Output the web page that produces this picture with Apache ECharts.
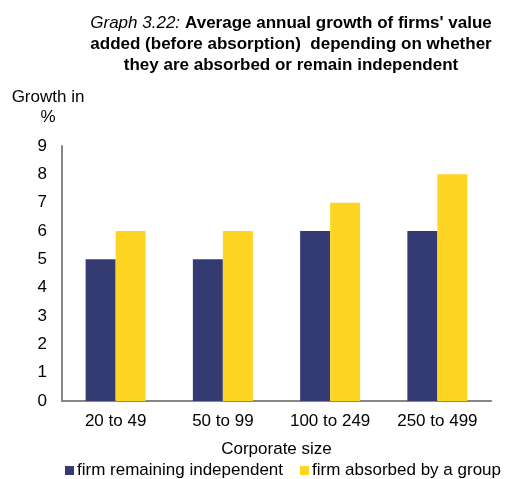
<!DOCTYPE html>
<html>
<head>
<meta charset="utf-8">
<script src="https://cdn.jsdelivr.net/npm/echarts@6/dist/echarts.min.js"></script>
<style>
  html, body { margin: 0; padding: 0; background: #fff; }
  #chart { width: 513px; height: 479px; }
</style>
</head>
<body>
<div id="chart"></div>
<script>
// data
const categories = ['20 to 49', '50 to 99', '100 to 249', '250 to 499']
const independent = [5, 5, 6, 6]
const absorbed = [6, 6, 7, 8]
const seriesNames = ['firm remaining independent', 'firm absorbed by a group']

const C = {
  navy: '#343b73',
  yellow: '#ffd524',
  axis: '#868686',
  text: '#000000'
}
const FONT = '"Liberation Sans", Arial, sans-serif'

const chart = echarts.init(document.getElementById('chart'))

chart.setOption({
  backgroundColor: '#ffffff',
  animation: false,
  textStyle: { fontFamily: FONT },
  title: [
    {
      // italic label + bold heading, three centred lines
      text: '{i|Graph 3.22:} {b|Average annual growth of firms\' value}\n{b|added (before absorption)  depending on whether}\n{b|they are absorbed or remain independent}',
      left: 286,
      top: 8,
      textAlign: 'center',
      textStyle: {
        fontWeight: 'normal',
        rich: {
          i: { fontStyle: 'italic', fontWeight: 'normal', fontSize: 17, fontFamily: FONT, color: C.text, lineHeight: 21 },
          b: { fontWeight: 'bold', fontSize: 17, fontFamily: FONT, color: C.text, lineHeight: 21 }
        }
      }
    },
    {
      text: 'Growth in\n%',
      left: 43,
      top: 82,
      textAlign: 'center',
      textStyle: { fontSize: 17, fontWeight: 'normal', fontFamily: FONT, color: C.text, lineHeight: 20 }
    }
  ],
  grid: { left: 62, right: 22, top: 146, bottom: 78, containLabel: false },
  legend: {
    left: 60,
    top: 457,
    itemWidth: 9,
    itemHeight: 9,
    itemGap: 17,
    icon: 'rect',
    textStyle: { fontSize: 17, color: C.text, fontFamily: FONT, padding: [0, 0, 0, -2] },
    data: seriesNames
  },
  xAxis: {
    type: 'category',
    data: categories,
    name: 'Corporate size',
    nameLocation: 'middle',
    nameGap: 40,
    nameTextStyle: { fontSize: 17, color: C.text, fontFamily: FONT },
    axisTick: { show: false },
    axisLine: { lineStyle: { color: C.axis, width: 2 } },
    axisLabel: { fontSize: 17, color: C.text, margin: 12, fontFamily: FONT }
  },
  yAxis: {
    type: 'value',
    min: 0,
    max: 9,
    interval: 1,
    axisLine: { show: true, lineStyle: { color: C.axis, width: 2 } },
    axisTick: { show: false },
    splitLine: { show: false },
    axisLabel: { fontSize: 17, color: C.text, margin: 15, fontFamily: FONT }
  },
  series: [
    {
      name: seriesNames[0],
      type: 'bar',
      barWidth: 30,
      barGap: '0%',
      itemStyle: { color: C.navy },
      data: independent
    },
    {
      name: seriesNames[1],
      type: 'bar',
      barWidth: 30,
      itemStyle: { color: C.yellow },
      data: absorbed
    }
  ]
})
</script>
</body>
</html>
